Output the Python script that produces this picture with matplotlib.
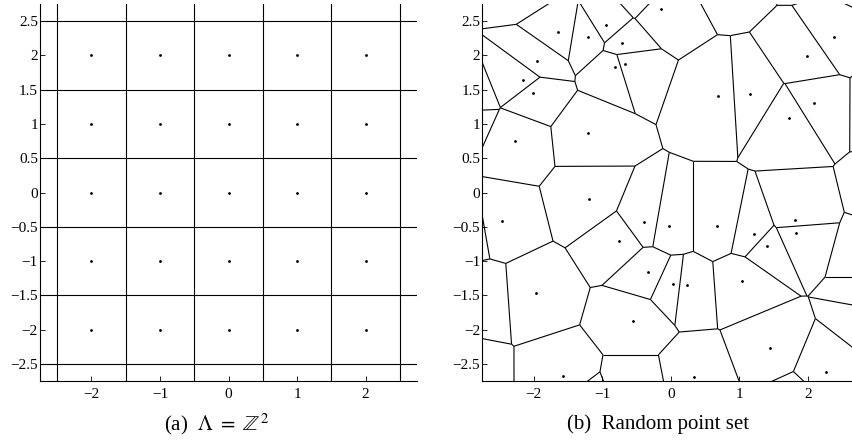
import numpy as np
import matplotlib
matplotlib.use("Agg")
import matplotlib.pyplot as plt
import matplotlib.tri as mtri
from matplotlib.collections import LineCollection

plt.rcParams['font.family'] = ['Liberation Serif', 'DejaVu Serif']
plt.rcParams['mathtext.fontset'] = 'stix'

# (a) integer lattice, one ring beyond the view so the outer cells close
lattice_coords = [-3, -2, -1, 0, 1, 2, 3]

# (b) random sites (visible ones)
site_x = [-0.138, -1.652, -0.939, -1.211, -0.706, -1.948, -0.808, -0.667, -2.151, -2.006,
          -1.201, -2.268, -1.197, 2.384, 1.983, 0.687, 1.157, 2.093, 1.725, -2.467,
          -0.386, -0.026, -0.760, -0.338, -1.968, -0.546, -1.575, 0.681, 1.812, 1.827,
          1.215, 1.405, 0.032, 0.230, 1.041, 1.448, 0.342, 2.268]
site_y = [2.672, 2.347, 2.443, 2.274, 2.176, 1.924, 1.831, 1.875, 1.647, 1.458,
          0.864, 0.752, -0.098, 2.264, 1.987, 1.404, 1.433, 1.312, 1.083, -0.418,
          -0.433, -0.496, -0.706, -1.162, -1.472, -1.876, -2.678, -0.496, -0.394, -0.589,
          -0.604, -0.778, -1.332, -1.356, -1.297, -2.274, -2.688, -2.615]

# sites just outside the window, guessed from the border cells
outer_x = [-2.095, -3.01, -3.035, -3.00, -2.99, -2.78, -3.00, -0.406, 0.822, 1.985,
           2.83, 3.133, 3.218, 2.94, 2.94, 2.90, 1.82, -1.24, -0.546]
outer_y = [3.044, 1.30, 1.184, 1.08, -0.51, -1.53, -2.68, 2.928, 3.19, 3.473,
           3.18, 1.308, -0.051, -0.89, -1.58, -1.80, -3.09, -3.12, -2.86]

x_ticks = [-2, -1, 0, 1, 2]
y_ticks = [-2.5, -2, -1.5, -1, -0.5, 0, 0.5, 1, 1.5, 2, 2.5]
lim = 2.75


def voronoi_segments(px, py):
    """Voronoi edges as circumcenter links of the Delaunay triangulation."""
    far = 40.0
    x = np.concatenate([px, [-far, far, 0, 0, -far, far, -far, far]])
    y = np.concatenate([py, [0, 0, -far, far, -far, -far, far, far]])
    tri = mtri.Triangulation(x, y)
    t = tri.triangles
    ax_, ay_ = x[t[:, 0]], y[t[:, 0]]
    bx, by = x[t[:, 1]], y[t[:, 1]]
    cx, cy = x[t[:, 2]], y[t[:, 2]]
    d = 2 * (ax_ * (by - cy) + bx * (cy - ay_) + cx * (ay_ - by))
    a2, b2, c2 = ax_**2 + ay_**2, bx**2 + by**2, cx**2 + cy**2
    ux = (a2 * (by - cy) + b2 * (cy - ay_) + c2 * (ay_ - by)) / d
    uy = (a2 * (cx - bx) + b2 * (ax_ - cx) + c2 * (bx - ax_)) / d
    segs = []
    for i, nb in enumerate(tri.neighbors):
        for j in nb:
            if j > i:
                segs.append([(ux[i], uy[i]), (ux[j], uy[j])])
    return segs


def fmt(v):
    s = '%g' % v
    return s.replace('-', '\u2212')


def style_axes(ax):
    ax.set_xlim(-lim, lim)
    ax.set_ylim(-lim, lim)
    ax.set_xticks(x_ticks)
    ax.set_xticklabels([fmt(v) for v in x_ticks])
    ax.set_yticks(y_ticks)
    ax.set_yticklabels([fmt(v) for v in y_ticks])
    ax.spines['top'].set_visible(False)
    ax.spines['right'].set_visible(False)
    for s in ('left', 'bottom'):
        ax.spines[s].set_linewidth(0.8)
    ax.tick_params(direction='in', length=3.5, width=0.6, labelsize=11)
    ax.tick_params(axis='x', pad=5)
    ax.tick_params(axis='y', pad=1.5)


fig = plt.figure(figsize=(8.52, 4.43), dpi=100)
ax1 = fig.add_axes([40 / 852, 62 / 443, 377 / 852, 377 / 443])
ax2 = fig.add_axes([482.3 / 852, 62 / 443, 377 / 852, 377 / 443])

gx, gy = np.meshgrid(lattice_coords, lattice_coords)
gx, gy = gx.ravel().astype(float), gy.ravel().astype(float)
ax1.add_collection(LineCollection(voronoi_segments(gx, gy), colors='k', linewidths=0.8))
ax1.plot(gx, gy, 'k.', markersize=2)
style_axes(ax1)

all_x = np.array(site_x + outer_x)
all_y = np.array(site_y + outer_y)
ax2.add_collection(LineCollection(voronoi_segments(all_x, all_y), colors='k', linewidths=0.8))
ax2.plot(site_x, site_y, 'k.', markersize=2)
style_axes(ax2)

fig.text(217 / 852, 1 - 424 / 443, r'(a)  $\Lambda\ =\ \mathbb{Z}^2$', ha='center', va='center', fontsize=15)
fig.text(658 / 852, 1 - 424 / 443, '(b)  Random point set', ha='center', va='center', fontsize=15)

fig.savefig('out.png', dpi=100)
